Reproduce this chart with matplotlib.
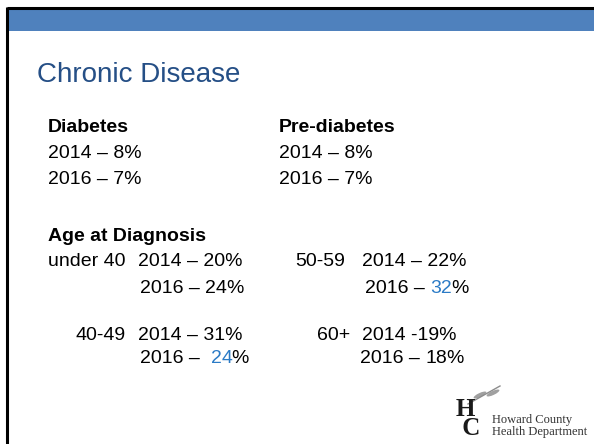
import matplotlib
matplotlib.use("Agg")
import matplotlib.pyplot as plt
from matplotlib.patches import Rectangle, Ellipse
from matplotlib.font_manager import FontProperties

# ---- data ----
years = ["2014", "2016"]
diabetes = [8, 7]
prediabetes = [8, 7]
age_groups = ["under 40", "40-49", "50-59", "60+"]
age_2014 = [20, 31, 22, 19]
age_2016 = [24, 24, 32, 18]
highlight_2016 = [False, True, True, False]

BLUE_BAND = "#4f81bd"
TITLE_C = "#254f86"
HILITE = "#2b7bc6"
FONT = "Liberation Sans"
DPI = 100

fig = plt.figure(figsize=(5.94, 4.44), dpi=DPI)
ax = fig.add_axes([0, 0, 1, 1])
ax.set_xlim(0, 594)
ax.set_ylim(444, 0)
ax.axis("off")

# slide frame
ax.add_patch(Rectangle((8, 10), 586, 21, color=BLUE_BAND, lw=0))
ax.plot([7, 594], [8, 8], color="black", lw=2.2, solid_capstyle="butt")
ax.plot([7, 7], [7, 444], color="black", lw=2.2, solid_capstyle="butt")

ax.text(37, 75, "Chronic Disease", fontsize=20, color=TITLE_C, family=FONT,
        va="center", ha="left")

fs = 14
renderer = fig.canvas.get_renderer()
_prop = FontProperties(family=FONT, size=fs)
def W(s):
    w, h, d = renderer.get_text_width_height_descent(s, _prop, ismath=False)
    return w

def t(x, y, s, ha="left", **kw):
    kw.setdefault("color", "black")
    ax.text(x, y, s, fontsize=fs, family=FONT, va="center", ha=ha, **kw)

t(48, 127, "Diabetes", weight="bold")
t(279, 127, "Pre-diabetes", weight="bold")
for i, (yr, d, p) in enumerate(zip(years, diabetes, prediabetes)):
    t(48, 153 + 26 * i, f"{yr} \u2013 {d}%")
    t(279, 153 + 26 * i, f"{yr} \u2013 {p}%")

t(48, 236, "Age at Diagnosis", weight="bold")

# positions of each group block: (label x, 2014 text x, 2016 text x, y1, y2)
layout = [
    (48, 138, 140, 261, 288),
    (76, 138, 140, 335, 358),
    (295, 362, 365, 261, 288),
    (317, 362, 360, 335, 358),
]
for g, v14, v16, hl, (lx, x14, x16, y1, y2) in zip(age_groups, age_2014, age_2016,
                                                     highlight_2016, layout):
    t(lx, y1, g)
    dash = " -" if g == "60+" else " \u2013 "
    t(x14, y1, f"2014{dash}{v14}%")
    prefix = "2016 \u2013  " if g == "40-49" else "2016 \u2013 "
    num = f"{v16}"
    t(x16, y2, prefix.rstrip())
    xnum = x16 + W(prefix + "%") - W("%")
    t(xnum, y2, num, color=HILITE if hl else "black")
    xpct = xnum + W(num + "%") - W("%") - 1
    t(xpct, y2, "%")

# logo
SERIF = "Liberation Serif"
ax.text(456, 419, "H\n C", fontsize=18, family=SERIF, va="center", ha="left",
        color="#1a1a1a", weight="bold", linespacing=0.75)
ax.text(492, 426, "Howard County\nHealth Department", fontsize=9, family=SERIF,
        va="center", ha="left", color="#333333", linespacing=1.0)
# wheat sprig
ax.plot([468, 500], [404, 386], color="#8c8c8c", lw=1.0)
for cx, cy in [(480, 395), (493, 393)]:
    ax.add_patch(Ellipse((cx, cy), 14, 4, angle=-25, color="#a0a0a0", lw=0))

fig.savefig("out.png", dpi=DPI)
